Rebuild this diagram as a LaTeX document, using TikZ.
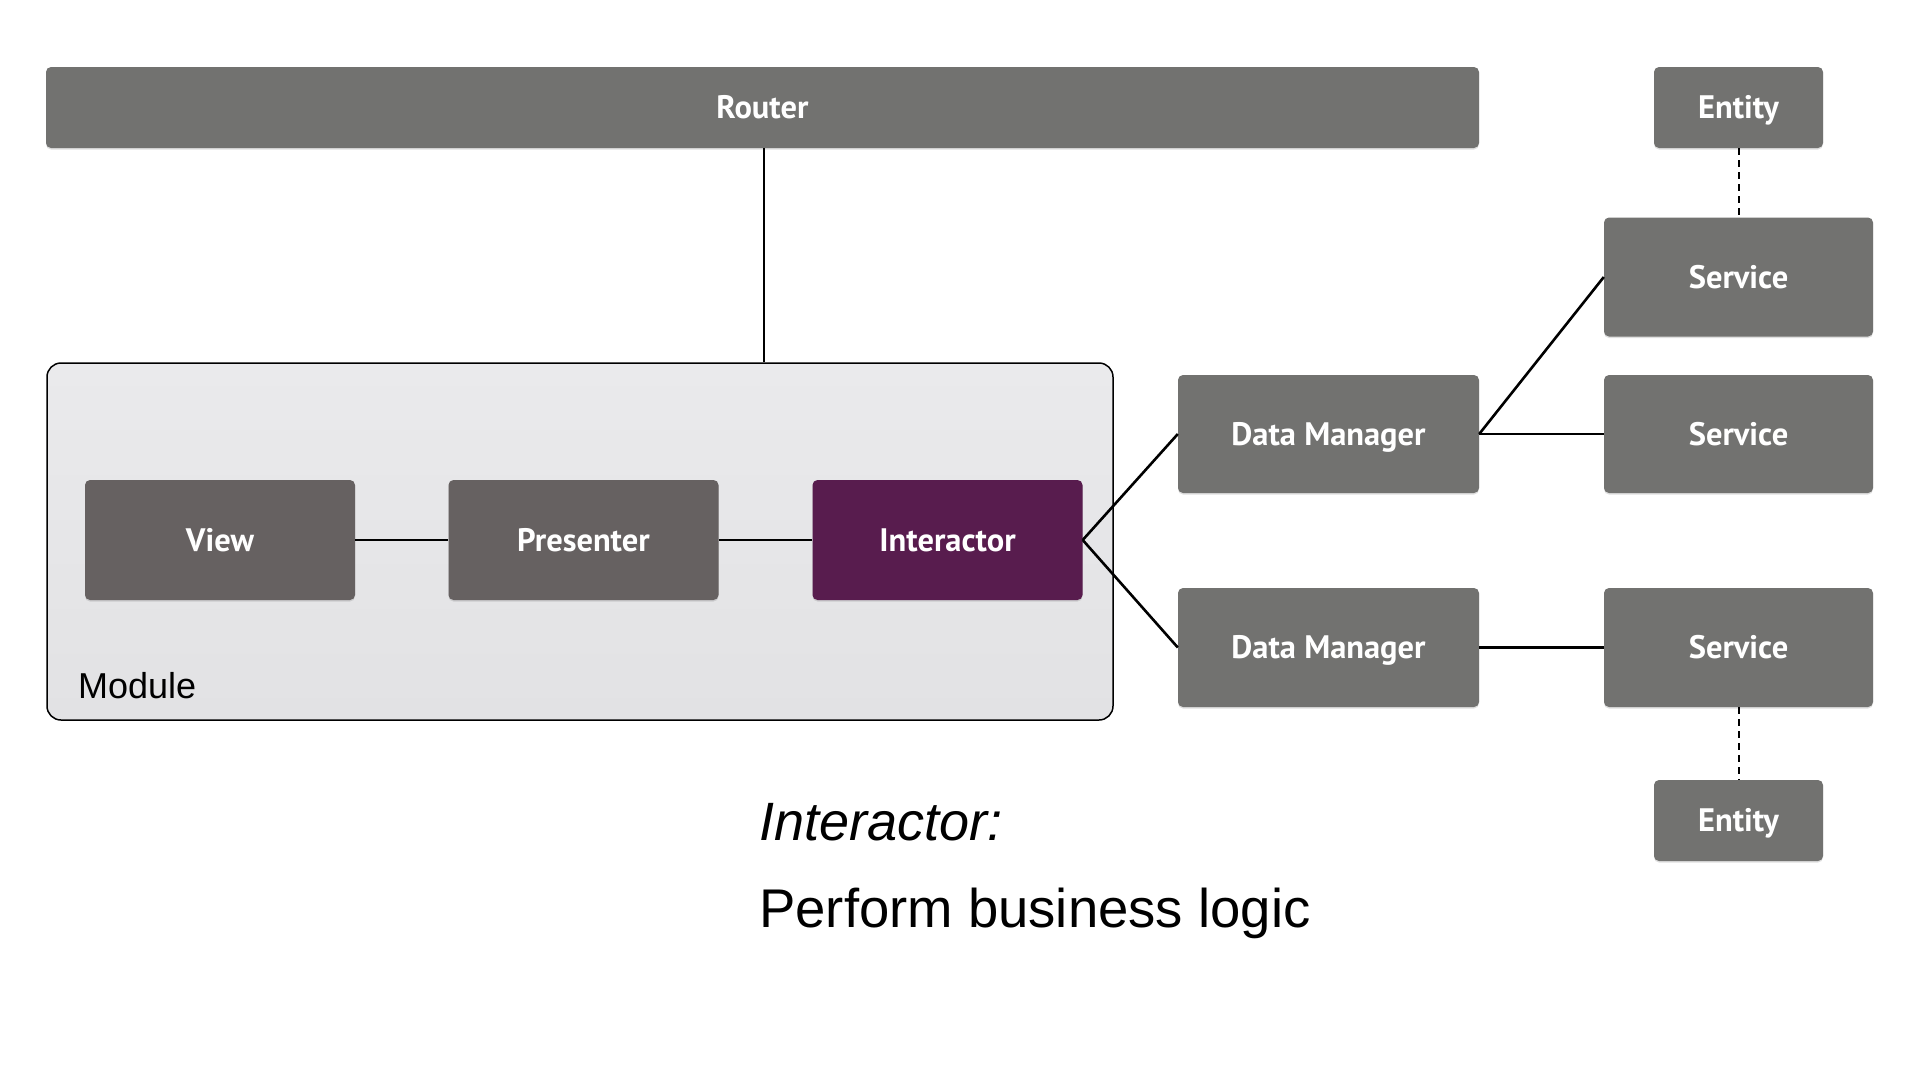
\documentclass[tikz,border=0pt]{standalone}
\usepackage{fontspec}
\setmainfont{Liberation Sans}
\newfontfamily\boxfont{PT Sans}
\usetikzlibrary{shadows}
\definecolor{boxgray}{HTML}{727270}
\definecolor{innergray}{HTML}{666161}
\definecolor{plum}{HTML}{581C4E}
\definecolor{modtop}{HTML}{EAEAEC}
\definecolor{modbot}{HTML}{E2E2E4}
\begin{document}
\begin{tikzpicture}[x=1pt,y=-1pt,
  box/.style={draw=none, fill=boxgray, rounded corners=5pt, text=white,
    font=\boxfont\bfseries\fontsize{32.5}{38}\selectfont, inner sep=0pt,
    text height=22.5pt, text depth=0pt,
    drop shadow={opacity=0.25, shadow xshift=0pt, shadow yshift=-1.5pt}},
  inner/.style={box, fill=innergray},
  link/.style={line width=2.6pt, black},
  dlink/.style={line width=2pt, black, dash pattern=on 7pt off 5pt},
  caption/.style={anchor=base west, inner sep=0pt, text=black}]
\useasboundingbox (0,0) rectangle (1920,1080);
\fill[white] (0,0) rectangle (1920,1080);

% module container
\node[draw=black, line width=1.5pt, rounded corners=14pt, top color=modtop, bottom color=modbot,
  minimum width=1066pt, minimum height=357pt, inner sep=0pt] (module) at (580,541.5) {};
\node[caption, font=\fontsize{36}{43}\selectfont] (modlabel) at (78,698) {Module};

% boxes
\node[box, minimum width=1433pt, minimum height=81pt] (router) at (762.5,107.5) {Router};
\node[box, minimum width=169pt, minimum height=81pt] (entity1) at (1738.5,107.5) {Entity};
\node[box, minimum width=269pt, minimum height=119pt] (service1) at (1738.5,277) {Service};
\node[box, minimum width=269pt, minimum height=118pt] (service2) at (1738.5,434) {Service};
\node[box, minimum width=301pt, minimum height=118pt] (dm1) at (1328.5,434) {Data Manager};
\node[box, minimum width=301pt, minimum height=119pt] (dm2) at (1328.5,647.5) {Data Manager};
\node[box, minimum width=269pt, minimum height=119pt] (service3) at (1738.5,647.5) {Service};
\node[box, minimum width=169pt, minimum height=81pt] (entity2) at (1738.5,820.5) {Entity};

\node[inner, minimum width=270pt, minimum height=120pt] (view) at (220,540) {View};
\node[inner, minimum width=270pt, minimum height=120pt] (presenter) at (583.5,540) {Presenter};
\node[box, fill=plum, minimum width=270pt, minimum height=120pt] (interactor) at (947.5,540) {Interactor};

% connectors
\coordinate (rx) at (764,0);
\draw[link] (router.south -| rx) -- (module.north -| rx);
\draw[link] (view.east) -- (presenter.west);
\draw[link] (presenter.east) -- (interactor.west);
\draw[link] (interactor.east) -- (dm1.west);
\draw[link] (interactor.east) -- (dm2.west);
\draw[link] (dm1.east) -- (service1.west);
\draw[link] (dm1.east) -- (service2.west);
\draw[link] (dm2.east) -- (service3.west);
\draw[dlink] (entity1.south) -- (service1.north);
\draw[dlink] (service3.south) -- (entity2.north);

% captions
\node[caption, font=\itshape\fontsize{54}{64}\selectfont] (cap1) at (759,840) {Interactor:};
\node[caption, font=\fontsize{54.5}{64}\selectfont] (cap2) at (759,927) {Perform business logic};
\end{tikzpicture}
\end{document}
